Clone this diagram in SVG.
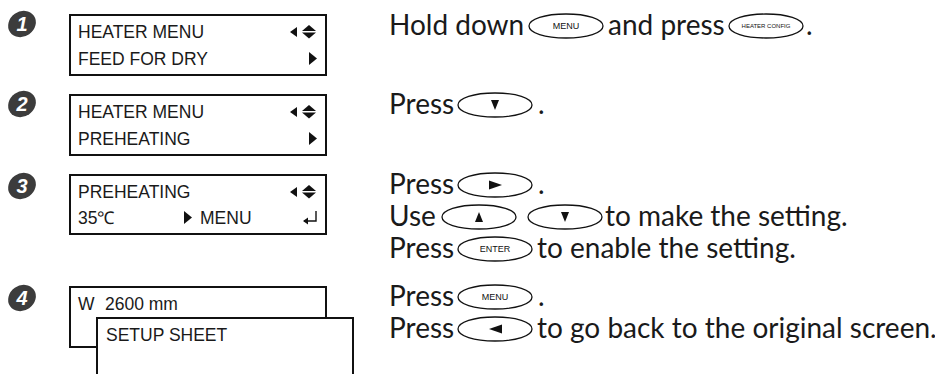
<svg xmlns="http://www.w3.org/2000/svg" width="935" height="374" viewBox="0 0 935 374">
<style>
.lcd{fill:#fff;stroke:#111;stroke-width:2}
.lt{font-family:"Liberation Sans",Arial,sans-serif;font-size:17.5px;fill:#1a1a1a}
.tx{font-family:Lato,"Open Sans",sans-serif;font-size:28px;fill:#1a1a1a}
.key{fill:#fff;stroke:#111;stroke-width:1.3}
.kl{font-family:"Liberation Sans",Arial,sans-serif;font-size:9px;fill:#111;text-anchor:middle}
.ks{font-family:"Liberation Sans",Arial,sans-serif;font-size:6px;fill:#111;text-anchor:middle}
.badge{fill:#3c3c3c}
.bn{font-family:"Liberation Sans",Arial,sans-serif;font-size:20px;font-weight:bold;font-style:italic;fill:#fff;text-anchor:middle}
.gl{fill:#111}
</style>
<defs>
<g id="badge"><ellipse cx="0" cy="0" rx="14.5" ry="12.5" transform="rotate(-35)" class="badge"/></g>
<g id="ud"><polygon points="0,6 14,6 7,0" class="gl"/><polygon points="0,7.5 14,7.5 7,13.5" class="gl"/></g>
<g id="kbody"><path d="M0,0 C0,-7 16,-12 37,-12 C58,-12 74,-7 74,0 C74,7 58,12 37,12 C16,12 0,7 0,0 Z" class="key"/></g>
</defs>

<g id="step1">
<use href="#badge" x="22" y="24"/><text class="bn" x="22" y="31">1</text>
<rect class="lcd" x="70" y="15" width="256" height="60"/>
<text class="lt" x="78" y="38">HEATER MENU</text>
<text class="lt" x="78" y="65">FEED FOR DRY</text>
<polygon class="gl" points="297,27 297,37 290,32"/>
<use href="#ud" x="302" y="25"/>
<polygon class="gl" points="309,52 309,65 317,58.5"/>
<text class="tx" x="389" y="35">Hold down</text>
<g id="key-menu1" transform="translate(529,26)"><use href="#kbody"/><text class="kl" x="37" y="3.2">MENU</text></g>
<text class="tx" x="608" y="35">and press</text>
<g id="key-heater" transform="translate(729,26)"><use href="#kbody"/><text class="ks" x="37" y="2.2">HEATER CONFIG</text></g>
<text class="tx" x="806" y="35">.</text>
</g>

<g id="step2">
<use href="#badge" x="22" y="104"/><text class="bn" x="22" y="111">2</text>
<rect class="lcd" x="70" y="95" width="256" height="60"/>
<text class="lt" x="78" y="118">HEATER MENU</text>
<text class="lt" x="78" y="145">PREHEATING</text>
<polygon class="gl" points="297,107 297,117 290,112"/>
<use href="#ud" x="302" y="105"/>
<polygon class="gl" points="309,132 309,145 317,138.5"/>
<text class="tx" x="389" y="114">Press</text>
<g id="key-down1" transform="translate(458,105)"><use href="#kbody"/><polygon class="gl" points="33,-5 41,-5 37,5"/></g>
<text class="tx" x="538" y="114">.</text>
</g>

<g id="step3">
<use href="#badge" x="22" y="186"/><text class="bn" x="22" y="193">3</text>
<rect class="lcd" x="70" y="175" width="256" height="59"/>
<text class="lt" x="78" y="198">PREHEATING</text>
<text class="lt" x="78" y="224">35℃</text>
<polygon class="gl" points="297,187 297,197 290,192"/>
<use href="#ud" x="302" y="185"/>
<polygon class="gl" points="184,211 184,224 192,217.5"/>
<text class="lt" x="200" y="224">MENU</text>
<path d="M316,211 V221 H304" fill="none" stroke="#111" stroke-width="1.4"/>
<polygon class="gl" points="303,221 308,217.5 308,224.5"/>
<text class="tx" x="389" y="194">Press</text>
<g id="key-right" transform="translate(458,185)"><use href="#kbody"/><polygon class="gl" points="31,-4.5 31,4.5 44,0"/></g>
<text class="tx" x="538" y="194">.</text>
<text class="tx" x="389" y="226">Use</text>
<g id="key-up" transform="translate(442,217)"><use href="#kbody"/><polygon class="gl" points="33,5 41,5 37,-5"/></g>
<g id="key-down2" transform="translate(528,217)"><use href="#kbody"/><polygon class="gl" points="33,-5 41,-5 37,5"/></g>
<text class="tx" x="605" y="226">to make the setting.</text>
<text class="tx" x="389" y="258">Press</text>
<g id="key-enter" transform="translate(458,249)"><use href="#kbody"/><text class="kl" x="37" y="3.2">ENTER</text></g>
<text class="tx" x="537" y="258">to enable the setting.</text>
</g>

<g id="step4">
<use href="#badge" x="22" y="298"/><text class="bn" x="22" y="305">4</text>
<rect class="lcd" x="70" y="287" width="256" height="60"/>
<text class="lt" x="78" y="310">W</text>
<text class="lt" x="105" y="310">2600 mm</text>
<rect class="lcd" x="97" y="318" width="256" height="70"/>
<text class="lt" x="106" y="341">SETUP SHEET</text>
<text class="tx" x="389" y="306">Press</text>
<g id="key-menu2" transform="translate(458,297)"><use href="#kbody"/><text class="kl" x="37" y="3.2">MENU</text></g>
<text class="tx" x="538" y="306">.</text>
<text class="tx" x="389" y="338">Press</text>
<g id="key-left" transform="translate(458,329)"><use href="#kbody"/><polygon class="gl" points="44,-4.5 44,4.5 31,0"/></g>
<text class="tx" x="537" y="338">to go back to the original screen.</text>
</g>

<g id="connectors"/>
</svg>
